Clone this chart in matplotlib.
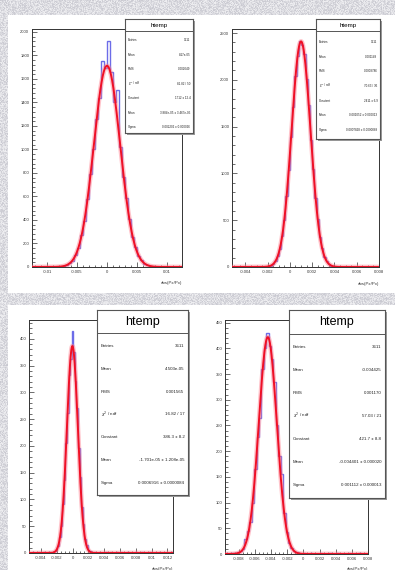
import numpy as np
import matplotlib.pyplot as plt
from matplotlib.patches import Rectangle
from matplotlib.ticker import MultipleLocator, FuncFormatter

plt.rcParams['font.family'] = ['Liberation Sans', 'DejaVu Sans']

W, H = 395, 570

# histogram contents (bin counts)
tl_range = (-0.0125, 0.0125)
tl_counts = [0, 0, 1, 0, 0, 1, 0, 2, 1, 3,
             8, 14, 32, 54, 103, 160, 270, 395, 580, 790,
             1005, 1262, 1440, 1750, 1690, 1925, 1660, 1400, 1510, 1020,
             770, 590, 410, 255, 170, 95, 60, 28, 16, 6,
             4, 2, 1, 0, 1, 0, 0, 1, 0, 0]
tl_fit = (1712.0, 0.0, 0.0022)

tr_range = (-0.0052, 0.008)
tr_counts = [0, 0, 1, 0, 0, 0, 1, 0, 1, 1, 0, 2, 1, 0,
             1, 3, 7, 14, 34, 60, 118, 195, 330, 502,
             755, 1035, 1385, 1705, 2040, 2250, 2420, 2370, 2280, 2010,
             1730, 1360, 1050, 740, 515, 320, 205, 110, 64, 30,
             16, 6, 3, 1,
             0, 1, 0, 0, 1, 0, 0, 0, 1, 0, 0, 1, 0, 0, 0, 1, 0, 0]
tr_fit = (2410.0, 0.001, 0.00085)

bl_range = (-0.0055, 0.0127)
bl_counts = [0, 0, 1, 0, 0, 0, 1, 0, 0, 1, 0, 0, 1, 1,
             0, 2, 3, 7, 13, 29, 50, 91, 136, 205, 262, 333, 362,
             414, 375, 322, 271, 196, 142, 86, 55, 26, 15, 6, 3, 1,
             0, 1, 0, 0, 1, 0, 0, 0, 1, 0,
             0, 1, 0, 0, 0, 1, 0, 0, 1, 0,
             0, 0, 1, 0, 0, 0, 0, 1, 0, 0,
             0, 1, 0, 0, 0, 0, 1, 0, 0, 0,
             0, 0, 1, 0, 0, 0, 0, 0, 0, 0, 1]
bl_fit = (386.3, -1.701e-05, 0.0006916)

br_range = (-0.0097, 0.008)
br_counts = [1, 0, 1, 1, 2,
             3, 5, 9, 30, 45, 63, 100, 165, 228, 265, 360, 400, 430, 405,
             380, 335, 250, 190, 155, 80, 42, 22, 12, 5, 3, 1,
             0, 1, 0, 0, 1, 0, 0, 0, 1, 0,
             0, 0, 1, 0, 0, 1, 0, 0, 0, 0,
             1, 0, 0, 0, 1, 0, 0, 0]
br_fit = (421.7, -0.004401, 0.001112)

# stats box texts
stat_labels = ['Entries', 'Mean', 'RMS', r'$\chi^2$ / ndf', 'Constant', 'Mean', 'Sigma']
tl_stats = ['3611', '8.17e-05', '0.002049', '81.82 / 50', '1712 \u00b1 12.4',
            '3.884e-05 \u00b1 3.467e-05', '0.002202 \u00b1 0.000026']
tr_stats = ['3611', '0.001149', '0.0008786', '70.63 / 36', '2411 \u00b1 6.9',
            '0.001052 \u00b1 0.000013', '0.0007828 \u00b1 0.0000089']
bl_stats = ['3611', '4.503e-05', '0.001565', '16.82 / 17', '386.3 \u00b1 8.2',
            '-1.701e-05 \u00b1 1.208e-05', '0.0006916 \u00b1 0.0000084']
br_stats = ['3611', '-0.004425', '0.001170', '57.03 / 21', '421.7 \u00b1 8.8',
            '-0.004401 \u00b1 0.000020', '0.001112 \u00b1 0.000013']

x_title = 'abs(Px/Px)'


def fr(l, t, r, b):
    return [l / W, 1 - b / H, (r - l) / W, (b - t) / H]


def gaus(x, c, m, s):
    return c * np.exp(-0.5 * ((x - m) / s) ** 2)


fig = plt.figure(figsize=(W / 100, H / 100), dpi=100)

# textured canvas background
jj, ii = np.meshgrid(np.arange(W), np.arange(H))
tex = np.sin(ii * 12.9898 + jj * 78.233) * 43758.5453
tex = tex - np.floor(tex)
bg = np.zeros((H, W, 3))
bg[..., 0] = 0.79 + 0.15 * tex
bg[..., 1] = 0.79 + 0.15 * tex
bg[..., 2] = 0.82 + 0.13 * tex
fig.figimage(np.clip(bg, 0, 1), zorder=-10)

for (l, t, r, b) in [(8, 15, 395, 293), (8, 305, 395, 570)]:
    fig.patches.append(Rectangle((l / W, 1 - b / H), (r - l) / W, (b - t) / H,
                                 transform=fig.transFigure, facecolor='white',
                                 edgecolor='none', zorder=-5))


def panel(box, rng, counts, fit, ymax, ymaj, ymin_, xmaj, xmin_, fs):
    ax = fig.add_axes(fr(*box))
    counts = np.array(counts, dtype=float)
    edges = np.linspace(rng[0], rng[1], len(counts) + 1)
    ax.stairs(counts, edges, color='#5c5ce6', lw=1.0, alpha=0.9, zorder=2)
    xs = np.linspace(rng[0], rng[1], 600)
    ys = gaus(xs, *fit)
    ax.plot(xs, ys, color='#ff7a8a', lw=3.4, alpha=0.45, zorder=3)
    ax.plot(xs, ys, color='#f01025', lw=1.4, zorder=4)
    ax.set_xlim(rng)
    ax.set_ylim(0, ymax)
    ax.yaxis.set_major_locator(MultipleLocator(ymaj))
    ax.yaxis.set_minor_locator(MultipleLocator(ymin_))
    ax.xaxis.set_major_locator(MultipleLocator(xmaj))
    ax.xaxis.set_minor_locator(MultipleLocator(xmin_))
    ax.xaxis.set_major_formatter(FuncFormatter(lambda v, p: '%g' % round(v, 6)))
    ax.yaxis.set_major_formatter(FuncFormatter(lambda v, p: '%g' % v))
    ax.tick_params(which='both', direction='in', top=False, right=False,
                   width=0.5, colors='#333333', labelsize=fs, pad=2)
    ax.tick_params(which='major', length=3.5)
    ax.tick_params(which='minor', length=1.8)
    for s in ax.spines.values():
        s.set_linewidth(0.7)
        s.set_color('#333333')
    return ax


def stats(box, title, values, tfs, fs, t_title, t_sep, row0, dy):
    l, t, r, b = box
    sh = Rectangle(((l + 2) / W, 1 - (b + 2) / H), (r - l) / W, (b - t) / H,
                   transform=fig.transFigure, facecolor='#9a9a9a',
                   edgecolor='none', zorder=4)
    fig.patches.append(sh)
    sa = fig.add_axes(fr(*box), zorder=5)
    sa.set_xticks([])
    sa.set_yticks([])
    for s in sa.spines.values():
        s.set_linewidth(0.8)
        s.set_color('#555555')
    hh = b - t
    sa.text(0.5, 1 - (t_title - t) / hh, title, ha='center', va='center',
            fontsize=tfs, transform=sa.transAxes)
    sa.axhline(1 - (t_sep - t) / hh, color='#555555', lw=0.7)
    for k, (lab, val) in enumerate(zip(stat_labels, values)):
        yy = 1 - (row0 + k * dy - t) / hh
        sa.text(0.04, yy, lab, ha='left', va='center', fontsize=fs,
                transform=sa.transAxes, color='#222222')
        sa.text(0.96, yy, val, ha='right', va='center', fontsize=fs,
                transform=sa.transAxes, color='#222222')


panel((32, 29, 182, 267), tl_range, tl_counts, tl_fit, 2025, 200, 40, 0.005, 0.001, 3.0)
panel((232, 29, 379, 267), tr_range, tr_counts, tr_fit, 2543, 500, 100, 0.002, 0.0005, 3.0)
panel((29, 320, 173, 553), bl_range, bl_counts, bl_fit, 435, 50, 10, 0.002, 0.0005, 3.0)
panel((225, 320, 368, 554), br_range, br_counts, br_fit, 455, 50, 10, 0.002, 0.0005, 3.0)

stats((125, 19, 193, 133), 'htemp', tl_stats, 4.5, 2.2, 25, 30.5, 40, 14.5)
stats((316, 19, 380, 139), 'htemp', tr_stats, 4.5, 2.2, 25, 31, 42, 14.7)
stats((97, 310, 188, 495), 'htemp', bl_stats, 9, 3.2, 322, 333, 346, 22.8)
stats((289, 310, 385, 498), 'htemp', br_stats, 9, 3.2, 322, 334, 347, 23.0)

for (px, py, fs) in [(182, 283, 3.2), (379, 284, 3.2), (173, 569, 3.2), (368, 569, 3.2)]:
    fig.text(px / W, 1 - py / H, x_title, ha='right', va='center', fontsize=fs,
             color='#333333')

fig.savefig('out.png', dpi=100)
